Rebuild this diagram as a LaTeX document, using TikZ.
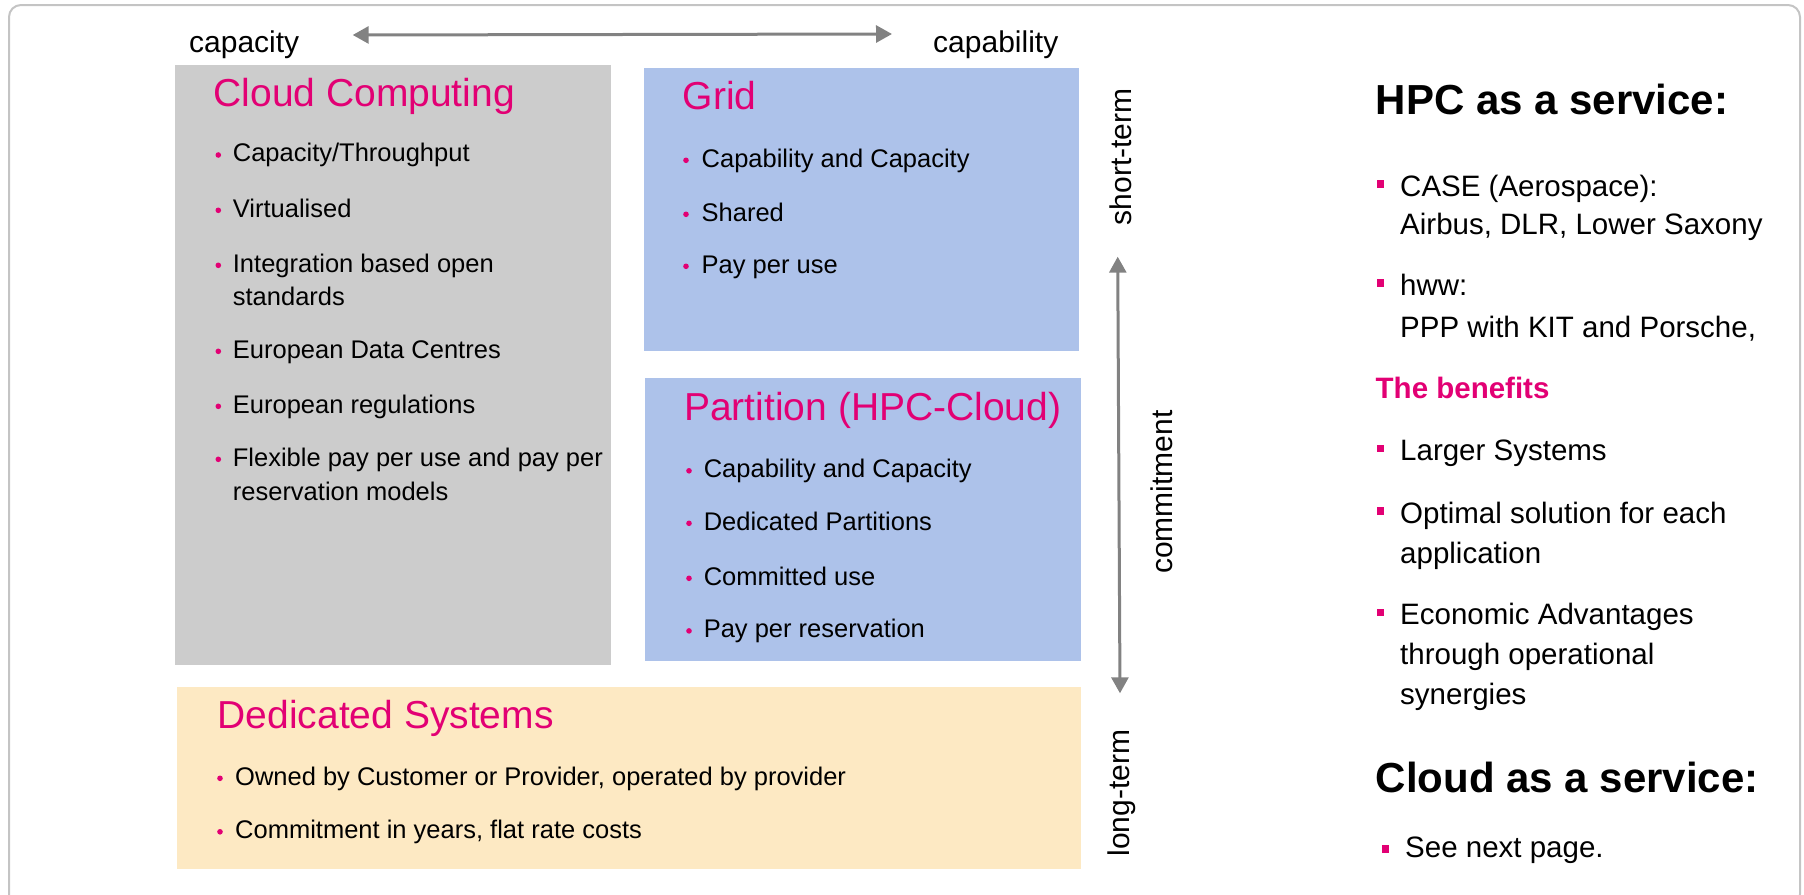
\documentclass[tikz,border=0pt]{standalone}
\usepackage{fontspec}
\setmainfont{Liberation Sans}
\usetikzlibrary{arrows.meta}
\definecolor{tmag}{HTML}{E20074}
\definecolor{cgray}{HTML}{CCCCCC}
\definecolor{cblue}{HTML}{ADC2EA}
\definecolor{cbeige}{HTML}{FDE9C3}
\definecolor{agray}{HTML}{828282}
\definecolor{fgray}{HTML}{C4C4C4}
\begin{document}
\begin{tikzpicture}[x=1pt,y=-1pt,
  panel/.style={inner sep=0, outer sep=0, anchor=north west},
  ttl/.style={inner sep=0, anchor=base west, text=tmag, font=\fontsize{39}{39}\selectfont},
  bxt/.style={inner sep=0, anchor=base west, text=black, font=\fontsize{25.5}{25.5}\selectfont},
  rtt/.style={inner sep=0, anchor=base west, text=black, font=\fontsize{29.5}{29.5}\selectfont},
  hdt/.style={inner sep=0, anchor=base west, text=black, font=\fontsize{42}{42}\selectfont\bfseries},
  lbl/.style={inner sep=0, anchor=base, text=black, font=\fontsize{30}{30}\selectfont},
  dotb/.style={circle, fill=tmag, inner sep=0, minimum size=5.6pt},
  sqb/.style={rectangle, fill=tmag, inner sep=0, minimum size=7.5pt},
  arr/.style={draw=agray, line width=3pt, {Triangle[length=16pt,width=17pt]}-{Triangle[length=16pt,width=17pt]}}
]
\useasboundingbox (0,0) rectangle (1804,894);
\clip (0,0) rectangle (1804,894);
\draw[fgray, line width=2pt, rounded corners=12pt] (9,5) rectangle (1800,906);

% panels
\node[panel, fill=cgray, minimum width=436pt, minimum height=600pt] (cloud) at (175,65) {};
\node[panel, fill=cblue, minimum width=435pt, minimum height=283pt] (grid) at (644,68) {};
\node[panel, fill=cblue, minimum width=436pt, minimum height=283pt] (part) at (645,378) {};
\node[panel, fill=cbeige, minimum width=904pt, minimum height=182pt] (ded) at (177,687) {};

% top axis
\node[lbl, anchor=base west] (capa) at (189,52) {capacity};
\node[lbl, anchor=base west] (capb) at (933,52) {capability};
\coordinate (hl) at (352.7,35);
\coordinate (hr) at (892,34);
\draw[arr] (hl) -- (hr);

% right axis
\node[lbl, rotate=90] (short) at (1131,157) {short-term};
\node[lbl, rotate=90] (commit) at (1172,492) {commitment};
\node[lbl, rotate=90] (long) at (1129,793) {long-term};
\coordinate (vt) at (1117.7,256.7);
\coordinate (vb) at (1120,693.3);
\draw[arr] (vt) -- (vb);

% Cloud Computing
\node[ttl] (cct) at (213.3,106.7) {Cloud Computing};
\node[dotb] (cd1) at (218.3,155) {};
\node[bxt] (cc1) at (232.7,161.7) {Capacity/Throughput};
\node[dotb] (cd2) at (218.3,210.3) {};
\node[bxt] (cc2) at (232.7,217) {Virtualised};
\node[dotb] (cd3) at (218.3,265.3) {};
\node[bxt] (cc3) at (232.7,272) {Integration based open};
\node[bxt] (cc3b) at (232.7,305) {standards};
\node[dotb] (cd4) at (218.3,351.3) {};
\node[bxt] (cc4) at (232.7,358) {European Data Centres};
\node[dotb] (cd5) at (218.3,406.3) {};
\node[bxt] (cc5) at (232.7,413) {European regulations};
\node[dotb] (cd6) at (218.3,459.3) {};
\node[bxt] (cc6) at (232.7,466) {Flexible pay per use and pay per};
\node[bxt] (cc6b) at (232.7,500) {reservation models};

% Grid
\node[ttl] (grt) at (682.5,109) {Grid};
\node[dotb] (gd1) at (686,160.3) {};
\node[bxt] (gr1) at (701.5,167) {Capability and Capacity};
\node[dotb] (gd2) at (686,214.3) {};
\node[bxt] (gr2) at (701.5,221) {Shared};
\node[dotb] (gd3) at (686,266.3) {};
\node[bxt] (gr3) at (701.5,273) {Pay per use};

% Partition
\node[ttl] (pat) at (684,420) {Partition (HPC-Cloud)};
\node[dotb] (pd1) at (689,470.8) {};
\node[bxt] (pa1) at (703.6,477.5) {Capability and Capacity};
\node[dotb] (pd2) at (689,523.3) {};
\node[bxt] (pa2) at (703.6,530) {Dedicated Partitions};
\node[dotb] (pd3) at (689,578.3) {};
\node[bxt] (pa3) at (703.6,585) {Committed use};
\node[dotb] (pd4) at (689,630.9) {};
\node[bxt] (pa4) at (703.6,637.6) {Pay per reservation};

% Dedicated Systems
\node[ttl] (dst) at (217.5,728.5) {Dedicated Systems};
\node[dotb] (dd1) at (220,778.3) {};
\node[bxt] (ds1) at (235,785) {Owned by Customer or Provider, operated by provider};
\node[dotb] (dd2) at (220,831.8) {};
\node[bxt] (ds2) at (235,838.5) {Commitment in years, flat rate costs};

% right column
\node[hdt] (hpc) at (1375.5,114) {HPC as a service:};
\node[sqb] (rs1) at (1380.5,184) {};
\node[rtt] (r1) at (1400,196) {CASE (Aerospace):};
\node[rtt] (r1b) at (1400,234) {Airbus, DLR, Lower Saxony};
\node[sqb] (rs2) at (1380.5,283) {};
\node[rtt] (r2) at (1400,295) {hww:};
\node[rtt] (r2b) at (1400,337.5) {PPP with KIT and Porsche,};
\node[rtt, text=tmag, font=\fontsize{29.5}{29.5}\selectfont\bfseries] (ben) at (1375.5,398.5) {The benefits};
\node[sqb] (rs3) at (1380.5,448.5) {};
\node[rtt] (r3) at (1400,460.5) {Larger Systems};
\node[sqb] (rs4) at (1380.5,511) {};
\node[rtt] (r4) at (1400,523) {Optimal solution for each};
\node[rtt] (r4b) at (1400,563) {application};
\node[sqb] (rs5) at (1380.5,612.5) {};
\node[rtt] (r5) at (1400,624.5) {Economic Advantages};
\node[rtt] (r5b) at (1400,664.5) {through operational};
\node[rtt] (r5c) at (1400,704.5) {synergies};
\node[hdt] (cas) at (1375.5,792) {Cloud as a service:};
\node[sqb] (rs6) at (1385.4,849) {};
\node[rtt] (r6) at (1405,857.5) {See next page.};
\end{tikzpicture}
\end{document}
